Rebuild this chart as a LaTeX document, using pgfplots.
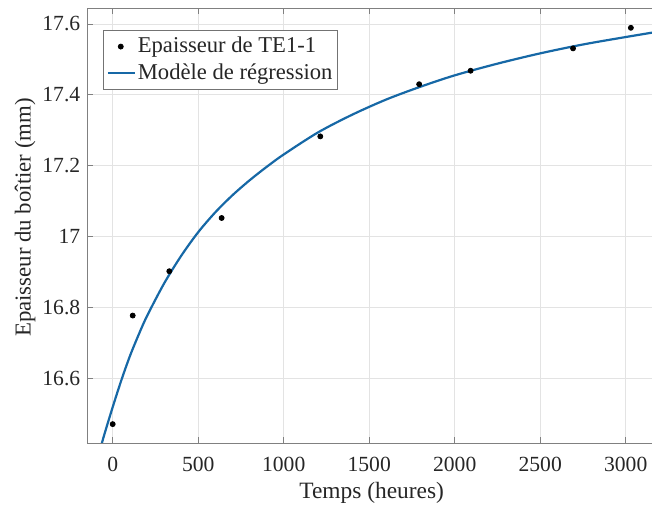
\documentclass[border=0pt]{standalone}
\usepackage{fontspec}
\setmainfont{Liberation Serif}
\usepackage{pgfplots}
\pgfplotsset{compat=1.18}
\definecolor{mblue}{RGB}{22,104,166}
\pgfplotsset{
  dotleg/.style={legend image code/.code={\draw[##1] plot coordinates {(6.5pt,0pt)};}},
  lineleg/.style={legend image code/.code={\draw[##1] (0pt,0pt) -- (13.5pt,0pt);}},
}
\begin{document}
\begin{tikzpicture}
\begin{axis}[
  name=ax,
  scale only axis,
  width=282.35pt, height=217.5pt,
  xmin=-148.5, xmax=3153.6,
  ymin=16.418, ymax=17.644,
  xtick={0,500,1000,1500,2000,2500,3000},
  xticklabels={\mbox{0},\mbox{500},\mbox{1000},\mbox{1500},\mbox{2000},\mbox{2500},\mbox{3000}},
  ytick={16.6,16.8,17,17.2,17.4,17.6},
  yticklabels={\mbox{16.6},\mbox{16.8},\mbox{17},\mbox{17.2},\mbox{17.4},\mbox{17.6}},
  xtick pos=both, ytick pos=left,
  tick align=inside,
  major tick length=3pt,
  tick style={black!50, line width=0.4pt},
  axis line style={draw=none},
  grid=major,
  grid style={black!11, line width=0.4pt},
  /pgf/number format/assume math mode=true,
  /pgf/number format/1000 sep={},
  ticklabel style={font=\fontsize{10.8}{12}\selectfont, text=black!85},
  xticklabel style={yshift=-3.5pt},
  xlabel={Temps (heures)},
  ylabel={Epaisseur du boîtier (mm)},
  xlabel style={at={(axis description cs:0.5036,0)}, anchor=center, yshift=-24.85pt, font=\fontsize{11.7}{13}\selectfont, text=black!85},
  ylabel style={at={(axis description cs:-0.1103,0.519)}, anchor=center, font=\fontsize{11.4}{13}\selectfont, text=black!85},
  legend style={at={(axis description cs:0.0283,0.950)}, anchor=north west,
    draw=black!55, line width=0.4pt, fill=white,
    font=\fontsize{11.3}{12.5}\selectfont, text=black!85,
    inner xsep=1.5pt, inner ysep=1pt, row sep=-1pt,
    nodes={inner xsep=1pt, inner ysep=2.4pt}},
  legend cell align=left,
]
\addplot[only marks, mark=*, mark size=1.25pt, black, dotleg]
  coordinates {
  (0,16.472) (117,16.778) (331,16.903) (637,17.053) (1214,17.283)
  (1792,17.430) (2093,17.468) (2692,17.531) (3030,17.589)
  };
\addlegendentry{Epaisseur de TE1-1}
\addplot[mblue, line width=1.1pt, smooth, no marks, lineleg]
  coordinates {
  (-80,16.389) (-50,16.441) (0,16.520) (50,16.595) (100,16.663)
  (150,16.722) (200,16.776) (300,16.868) (400,16.946) (500,17.013)
  (600,17.069) (700,17.117) (800,17.159) (900,17.197) (1000,17.232)
  (1200,17.294) (1400,17.344) (1600,17.387) (1800,17.423) (2000,17.455)
  (2250,17.488) (2500,17.517) (2750,17.542) (3000,17.563) (3200,17.579)
  };
\addlegendentry{Modèle de régression}
\end{axis}
\draw[black!50, line width=0.4pt] (ax.north east) -- (ax.north west) -- (ax.south west) -- (ax.south east);
\pgfresetboundingbox
\path[use as bounding box] ([xshift=-43.65pt,yshift=-31.85pt]ax.south west) rectangle ([yshift=4.15pt]ax.north east);
\end{tikzpicture}
\end{document}
